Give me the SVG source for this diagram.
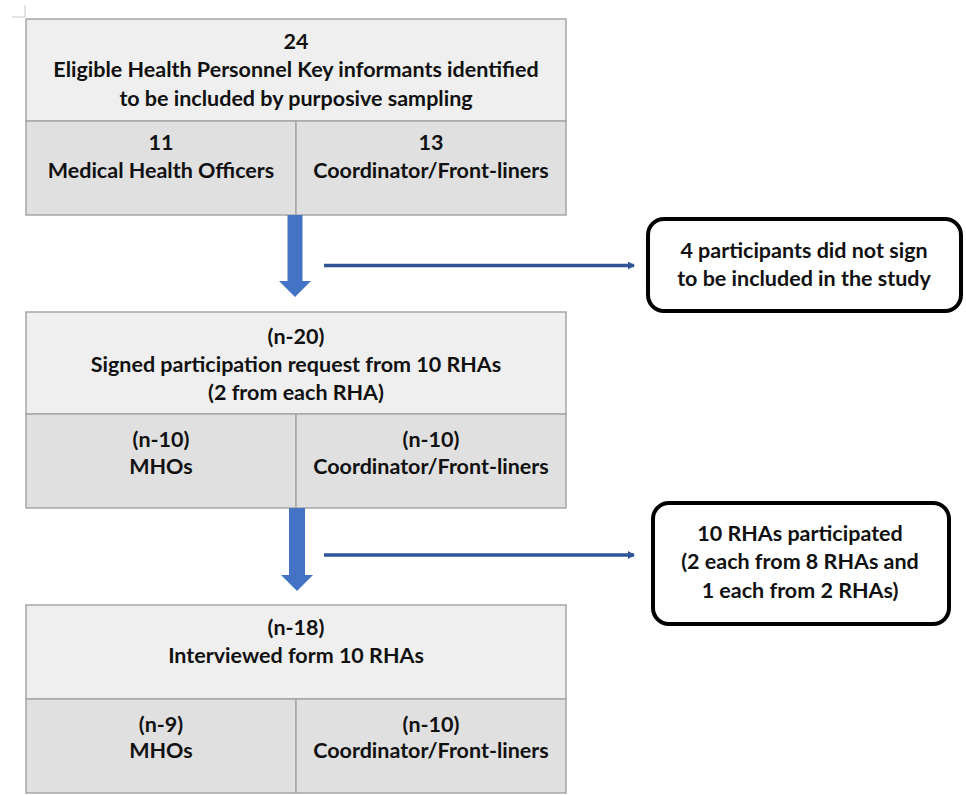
<svg xmlns="http://www.w3.org/2000/svg" width="966" height="795" viewBox="0 0 966 795">
<style>
.top{fill:#efefef;stroke:#a6a6a6;stroke-width:1.5}
.sub{fill:#e0e0e0;stroke:#a6a6a6;stroke-width:1.5}
.side{fill:#ffffff;stroke:#000000;stroke-width:4}
text{font-family:Lato,"Open Sans","Liberation Sans",sans-serif;font-weight:bold;font-size:21.5px;fill:#111111;text-anchor:middle}
.big{fill:#4472c4}
.line{stroke:#2f5597;stroke-width:3.5;fill:none}
</style>
<defs>
<marker id="ah" markerWidth="8" markerHeight="8" refX="6" refY="4" orient="auto" markerUnits="userSpaceOnUse">
<path d="M0,0 L7,4 L0,8 Z" fill="#2f5597"/>
</marker>
</defs>
<g id="cropmark" stroke="#c8c8c8" stroke-width="1" fill="none">
<path d="M25,5 V17 H12"/>
</g>
<g id="box1">
<rect class="top" x="26" y="19" width="540" height="102"/>
<rect class="sub" x="26" y="121" width="270" height="94"/>
<rect class="sub" x="296" y="121" width="270" height="94"/>
<text x="296" y="49">24</text>
<text x="296" y="77">Eligible Health Personnel Key informants identified</text>
<text x="296" y="106">to be included by purposive sampling</text>
<text x="161" y="150">11</text>
<text x="161" y="178">Medical Health Officers</text>
<text x="431" y="150">13</text>
<text x="431" y="178">Coordinator/Front-liners</text>
</g>
<g id="box2">
<rect class="top" x="26" y="312" width="540" height="102"/>
<rect class="sub" x="26" y="414" width="270" height="94"/>
<rect class="sub" x="296" y="414" width="270" height="94"/>
<text x="296" y="344">(n-20)</text>
<text x="296" y="372">Signed participation request from 10 RHAs</text>
<text x="296" y="400">(2 from each RHA)</text>
<text x="161" y="447">(n-10)</text>
<text x="161" y="474">MHOs</text>
<text x="431" y="447">(n-10)</text>
<text x="431" y="474">Coordinator/Front-liners</text>
</g>
<g id="box3">
<rect class="top" x="26" y="605" width="540" height="94"/>
<rect class="sub" x="26" y="699" width="270" height="94"/>
<rect class="sub" x="296" y="699" width="270" height="94"/>
<text x="296" y="635">(n-18)</text>
<text x="296" y="663">Interviewed form 10 RHAs</text>
<text x="161" y="732">(n-9)</text>
<text x="161" y="758">MHOs</text>
<text x="431" y="732">(n-10)</text>
<text x="431" y="758">Coordinator/Front-liners</text>
</g>
<g id="note1">
<rect class="side" x="648" y="219" width="313" height="92" rx="16"/>
<text x="804" y="258">4 participants did not sign</text>
<text x="804" y="286">to be included in the study</text>
</g>
<g id="note2">
<rect class="side" x="653" y="503" width="296" height="121" rx="16"/>
<text x="800" y="541">10 RHAs participated</text>
<text x="800" y="569">(2 each from 8 RHAs and</text>
<text x="800" y="598">1 each from 2 RHAs)</text>
</g>
<g id="connectors">
<path class="big" d="M287.5,215 H302.5 V281 H311 L295,297 L279,281 H287.5 Z"/>
<path class="big" d="M289,508 H305 V575 H313 L297,591 L281,575 H289 Z"/>
<path class="line" d="M324,265.5 H634" marker-end="url(#ah)"/>
<path class="line" d="M324,555 H634" marker-end="url(#ah)"/>
</g>
</svg>
